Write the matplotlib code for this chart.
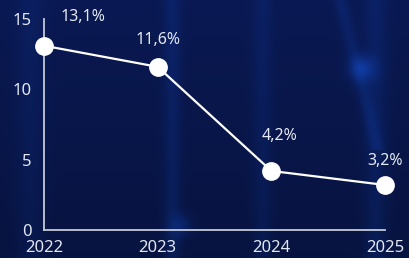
import numpy as np
import matplotlib.pyplot as plt

# Data
years = [2022, 2023, 2024, 2025]
values = [13.1, 11.6, 4.2, 3.2]
labels = ['13,1%', '11,6%', '4,2%', '3,2%']
label_offsets = [(28, 21), (0, 19), (6, 25), (0, 17)]  # points, per label

fig = plt.figure(figsize=(4.09, 2.58), dpi=100)
fig.patch.set_facecolor('#081a52')

# background: dark navy with a few soft light streaks
bg = fig.add_axes([0, 0, 1, 1], zorder=0)
h, w = 258, 409
yy, xx = np.mgrid[0:h, 0:w]
base = np.array([0.035, 0.09, 0.30])
img = np.ones((h, w, 3)) * base
img *= (1.08 - 0.25 * yy[..., None] / h)
glow = np.zeros((h, w))
for cx, sx, amp in [(172, 6, 0.25), (262, 7, 0.18), (375, 8, 0.22), (30, 10, 0.15)]:
    glow += amp * np.exp(-((xx - cx) ** 2) / (2 * sx ** 2))
streak_x = 340 + yy * 0.25
glow += 0.25 * np.exp(-((xx - streak_x) ** 2) / (2 * 5 ** 2)) * (yy < 150)
glow += 0.7 * np.exp(-(((xx - 362) ** 2) + (yy - 68) ** 2) / (2 * 9 ** 2))
glow += 0.4 * np.exp(-(((xx - 180) ** 2) + (yy - 225) ** 2) / (2 * 8 ** 2))
img += glow[..., None] * np.array([0.03, 0.15, 0.35])
bg.imshow(np.clip(img, 0, 1), aspect='auto', extent=[0, 1, 0, 1])
bg.axis('off')

ax = fig.add_axes([44 / 409, 1 - 230 / 258, (385 - 44) / 409, (230 - 19) / 258], zorder=1)
ax.patch.set_alpha(0)

ax.plot(years, values, color='white', lw=1.6, marker='o', markersize=12.5,
        markerfacecolor='white', markeredgecolor='white', clip_on=False, zorder=3)

for x, y, lab, off in zip(years, values, labels, label_offsets):
    ax.annotate(lab, (x, y), xytext=off, textcoords='offset points',
                ha='center', va='center', color='#e4e9f2', fontsize=11.5,
                family='Noto Sans')

ax.set_xlim(2022, 2025)
ax.set_ylim(0, 15)
ax.set_xticks(years)
ax.set_yticks([0, 5, 10, 15])
ax.tick_params(length=0, colors='#e2e7f0', labelsize=12)
ax.tick_params(axis='x', pad=7)
ax.tick_params(axis='y', pad=9)
for t in ax.get_xticklabels() + ax.get_yticklabels():
    t.set_family('Noto Sans')
for s in ['top', 'right']:
    ax.spines[s].set_visible(False)
for s in ['left', 'bottom']:
    ax.spines[s].set_color('#c3cad8')
    ax.spines[s].set_linewidth(1.3)

fig.savefig('out.png', dpi=100, facecolor=fig.get_facecolor())
